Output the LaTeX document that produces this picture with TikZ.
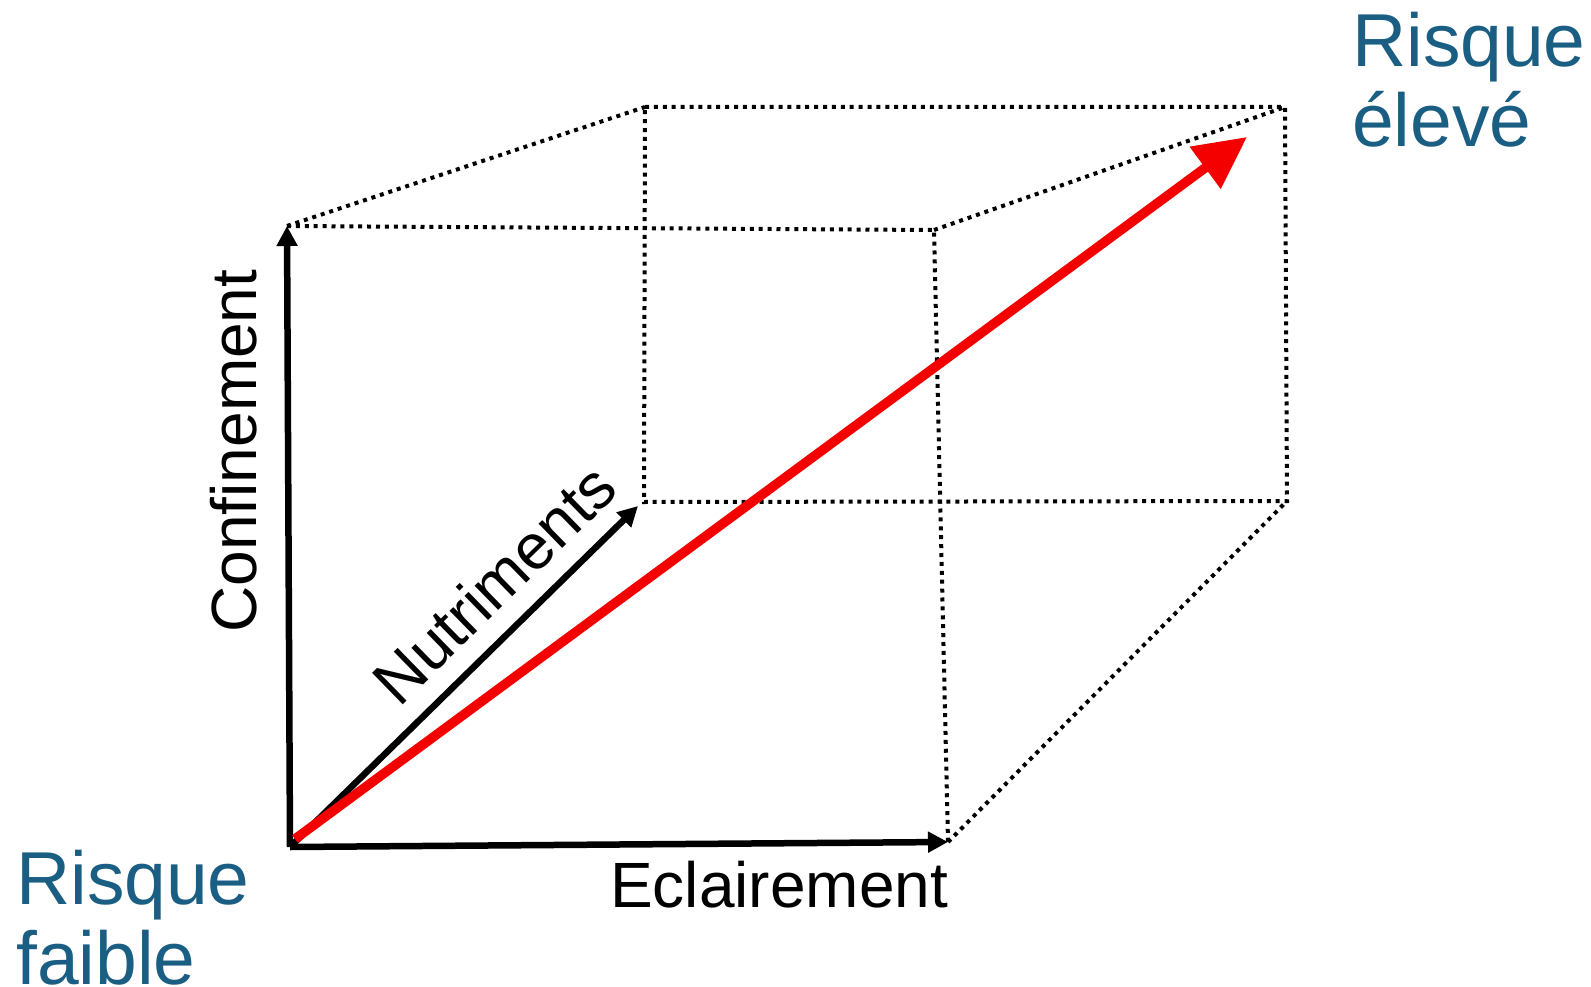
\documentclass[tikz,border=0pt]{standalone}
\usepackage{fontspec}
\setmainfont{Liberation Sans}
\usetikzlibrary{arrows.meta}
\definecolor{riskblue}{RGB}{26,94,131}
\definecolor{riskred}{RGB}{245,0,0}
\tikzset{
  axisarrow/.style={line width=6.5pt, -{Triangle[length=20pt,width=20pt]}},
  riskarrow/.style={riskred, line width=9.5pt, -{Triangle[length=52pt,width=50pt]}},
  edge/.style={line width=4pt, dash pattern=on 4pt off 4.9pt},
  axislabel/.style={font=\fontsize{64}{70}\selectfont, inner sep=0pt},
  risklabel/.style={font=\fontsize{75}{80}\selectfont, text=riskblue, inner sep=0pt, align=left}
}
\begin{document}
\begin{tikzpicture}[x=1pt,y=-1pt]
\useasboundingbox (0,0) rectangle (1591,987);
% corners
\coordinate (O) at (290,847);
\coordinate (TL) at (287,226);
\coordinate (FTR) at (934,230);
\coordinate (FBR) at (948,842);
\coordinate (BTL) at (645,107);
\coordinate (BTR) at (1285,107);
\coordinate (BBL) at (644,502);
\coordinate (BBR) at (1287,501);
\coordinate (NT) at (638,506);
\coordinate (RS) at (295,839);
\coordinate (RT) at (1247,137);
% dotted edges
\draw[edge] (TL) -- (FTR) -- (FBR);
\draw[edge] (BTL) -- (BTR) -- (BBR) -- (BBL) -- cycle;
\draw[edge] (TL) -- (BTL);
\draw[edge] (FTR) -- (BTR);
\draw[edge] (FBR) -- (BBR);
% axes
\draw[axisarrow] (O) -- (TL);
\draw[axisarrow] (O) -- (FBR);
\draw[axisarrow] (O) -- (NT);
% red arrow
\draw[riskarrow] (RS) -- (RT);
% labels
\node[axislabel, anchor=base west] (eclair) at (610,907) {Eclairement};
\node[axislabel, anchor=base, rotate=90] (confin) at (256,451) {Confinement};
\node[axislabel, anchor=base, rotate=44.3] (nutri) at (510,600) {Nutriments};
\node[risklabel, anchor=north west] (faible) at (16,850) {Risque\\faible};
\node[risklabel, anchor=north west] (eleve) at (1352,12) {Risque\\élevé};
\end{tikzpicture}
\end{document}
